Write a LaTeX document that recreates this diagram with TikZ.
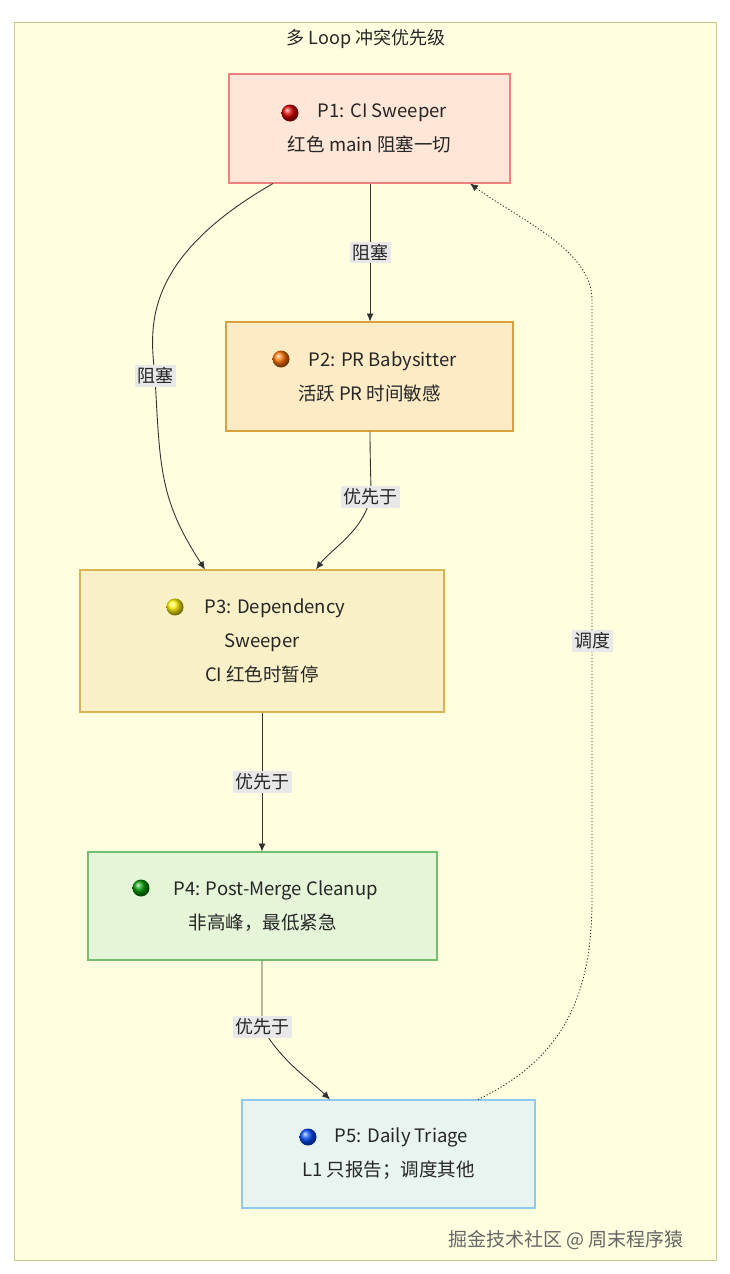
\documentclass[tikz,border=0pt]{standalone}
\usepackage{fontspec}
\setmainfont{Noto Sans CJK SC}
\usetikzlibrary{arrows.meta}
\definecolor{bgy}{HTML}{FFFFE0}
\definecolor{bgb}{HTML}{C8C88C}
\definecolor{f1}{HTML}{FFE6D6}\definecolor{s1}{HTML}{EE8080}
\definecolor{f2}{HTML}{FDEBC6}\definecolor{s2}{HTML}{D9A03C}
\definecolor{f3}{HTML}{FAF0C8}\definecolor{s3}{HTML}{D8B450}
\definecolor{f4}{HTML}{E4F5D8}\definecolor{s4}{HTML}{70C070}
\definecolor{f5}{HTML}{E8F4F0}\definecolor{s5}{HTML}{90C8F0}
\begin{document}
\begin{tikzpicture}[x=1pt,y=-1pt,
  box/.style={draw,line width=1.3pt,inner sep=0pt,text=black!85,font=\fontsize{18.5}{34}\selectfont,align=center},
  lbl/.style={fill=gray!18,inner sep=2.5pt,text=black!85,font=\fontsize{18}{20}\selectfont},
  arr/.style={draw=black!80,line width=0.9pt,-{Latex[length=8pt,width=7pt]}},
  dot/.style={circle,inner sep=0pt,minimum size=17pt}]
\useasboundingbox (0,0) rectangle (730,1274);
\fill[white] (0,0) rectangle (730,1274);
\draw[fill=bgy,draw=bgb,line width=1pt] (14,22) rectangle (716,1260);
\node[font=\fontsize{18}{20}\selectfont,text=black!85] (title) at (366,39) {多 Loop 冲突优先级};
\node[box,fill=f1,draw=s1,minimum width=281pt,minimum height=109pt] (p1) at (369.5,128.5) {\hspace{26pt}P1: CI Sweeper\\红色 main 阻塞一切};
\node[box,fill=f2,draw=s2,minimum width=287pt,minimum height=109pt] (p2) at (369.5,376.5) {\hspace{26pt}P2: PR Babysitter\\活跃 PR 时间敏感};
\node[box,fill=f3,draw=s3,minimum width=364pt,minimum height=142pt] (p3) at (262,641) {\hspace{26pt}P3: Dependency\\Sweeper\\CI 红色时暂停};
\node[box,fill=f4,draw=s4,minimum width=349pt,minimum height=108pt] (p4) at (262.5,906) {\hspace{26pt}P4: Post-Merge Cleanup\\非高峰，最低紧急};
\node[box,fill=f5,draw=s5,minimum width=293pt,minimum height=108pt] (p5) at (388.5,1154) {\hspace{26pt}P5: Daily Triage\\L1 只报告；调度其他};
\node[dot,ball color=red!85!black] (d1) at (290,113) {};
\node[dot,ball color=orange!90!red] (d2) at (281,359) {};
\node[dot,ball color=yellow!90!orange] (d3) at (175,607) {};
\node[dot,ball color=green!60!black] (d4) at (141,888) {};
\node[dot,ball color=blue!70!cyan] (d5) at (308,1137) {};
\coordinate (a1) at (370,183.5); \coordinate (a2) at (370,321.5);
\draw[arr] (a1) -- (a2) node[lbl,midway] {阻塞};
\coordinate (b1) at (273,183.5); \coordinate (b2) at (205,569.5);
\draw[arr] (b1) .. controls (140,260) and (150,330) .. (155,376) node[lbl] {阻塞} .. controls (160,470) and (160,500) .. (b2);
\coordinate (c1) at (370,431.5); \coordinate (c2) at (316,569.5);
\draw[arr] (c1) .. controls (370,470) and (372,497) .. (370,497) node[lbl] {优先于} .. controls (365,530) and (330,550) .. (c2);
\coordinate (e1) at (262,712.5); \coordinate (e2) at (262,851.5);
\draw[arr] (e1) -- (e2) node[lbl,midway] {优先于};
\coordinate (f1) at (262,960.5); \coordinate (f2) at (330,1099.5);
\draw[arr] (f1) .. controls (262,1000) and (262,1010) .. (262,1027) node[lbl] {优先于} .. controls (280,1060) and (310,1080) .. (f2);
\coordinate (g1) at (478,1099.5); \coordinate (g2) at (470,183.5);
\draw[arr,dash pattern=on 1.2pt off 2pt] (g1) .. controls (560,1060) and (592,1000) .. (592,900) -- (592,641) node[lbl] {调度} -- (592,300) .. controls (592,250) and (520,220) .. (g2);
\node[font=\fontsize{19}{20}\selectfont,text=black!60] (wm) at (566,1240) {掘金技术社区 @ 周末程序猿};
\end{tikzpicture}
\end{document}
